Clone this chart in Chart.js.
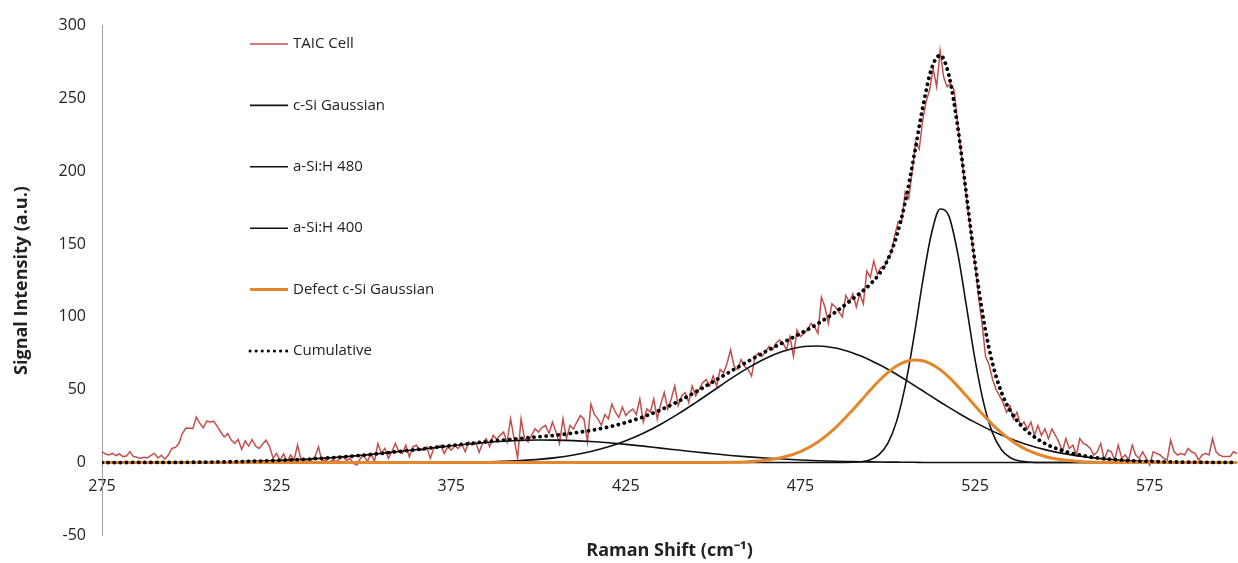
<!doctype html>
<html lang="en">
<head>
<meta charset="utf-8">
<title>Raman spectrum fit - TAIC cell</title>
<script src="https://cdn.jsdelivr.net/npm/chart.js@4.4.0/dist/chart.umd.min.js"></script>
<style>
  html, body { margin: 0; padding: 0; background: #fff; }
</style>
</head>
<body>
<canvas id="ramanChart" width="1238" height="563"></canvas>
<script>
// measured spectrum, one reading per cm-1 starting at 275
var shiftStart = 275
var taicCell = [
  7.5, 5.9, 5.2, 6.3, 4.7, 5.9, 4.1, 4.5, 7.5, 4.1,
  3.6, 2.9, 3.6, 3.1, 5.0, 6.3, 3.1, 5.0, 2.3, 5.2,
  9.7, 10.4, 13.1, 19.9, 23.5, 23.7, 23.3, 31.2, 27.1, 23.9,
  28.4, 27.8, 28.4, 24.8, 21.0, 17.6, 19.9, 15.4, 13.1, 15.8,
  9.0, 14.9, 11.3, 15.8, 11.3, 9.7, 12.7, 15.4, 10.8, 2.9,
  6.3, 1.4, 5.9, 0.7, 5.2, 1.8, 12.0, 1.8, 2.7, 0.0,
  1.8, 4.1, 10.8, 0.7, 1.8, 0.0, 1.8, 0.7, 2.3, 4.1,
  1.4, 2.9, -0.5, -1.6, 2.9, 4.7, 0.7, 6.3, 0.7, 13.1,
  6.3, 9.7, 2.9, 7.4, 13.1, 7.4, 6.3, 11.9, 4.0, 10.8,
  11.9, 8.5, 8.5, 10.8, 2.9, 9.7, 10.8, 11.9, 6.3, 10.8,
  8.5, 11.5, 9.7, 13.0, 7.4, 14.2, 11.9, 14.0, 7.0, 13.5,
  16.4, 11.0, 18.7, 16.0, 18.7, 20.9, 14.0, 30.0, 16.4, 2.9,
  30.0, 16.4, 14.2, 18.7, 23.2, 20.9, 24.0, 25.5, 20.0, 27.8,
  21.0, 13.1, 30.0, 16.5, 25.5, 23.0, 28.0, 32.3, 30.0, 14.3,
  40.2, 33.0, 30.0, 25.5, 33.0, 30.0, 40.2, 34.6, 31.0, 38.0,
  32.3, 35.0, 36.8, 33.0, 43.6, 27.8, 36.8, 34.6, 43.6, 30.0,
  40.0, 48.1, 36.8, 43.6, 52.6, 39.1, 45.8, 48.1, 41.3, 52.6,
  45.8, 50.4, 54.9, 57.1, 52.6, 59.4, 52.6, 63.9, 61.6, 68.4,
  77.4, 66.1, 63.9, 70.7, 66.1, 63.9, 59.4, 72.9, 75.2, 72.9,
  76.3, 79.7, 77.4, 81.9, 84.2, 81.9, 77.4, 86.5, 72.9, 91.0,
  86.5, 88.7, 91.0, 95.5, 93.2, 88.7, 113.6, 106.8, 95.5, 109.0,
  106.8, 103.4, 100.0, 114.7, 110.2, 115.8, 106.8, 115.8, 109.0, 131.6,
  127.1, 138.4, 129.4, 133.9, 133.8, 140.0, 144.0, 156.0, 165.4, 166.0,
  185.8, 181.2, 200.0, 220.0, 215.1, 235.0, 248.0, 256.0, 270.4, 258.0,
  282.8, 264.7, 258.0, 260.2, 255.7, 233.0, 212.8, 192.5, 172.2, 154.0,
  136.0, 113.5, 95.5, 73.0, 67.3, 57.1, 50.3, 45.8, 41.3, 34.5,
  39.0, 30.0, 34.5, 25.5, 27.8, 23.2, 27.8, 18.7, 25.5, 18.7,
  23.2, 16.4, 23.2, 18.7, 14.2, 7.4, 16.5, 9.7, 12.0, 5.2,
  16.5, 13.1, 12.0, 9.7, 5.2, 7.4, 13.1, 1.8, 8.6, 7.4,
  1.8, 12.0, 2.9, 5.2, 1.8, 12.0, 5.2, 2.9, 7.4, 2.9,
  -1.6, 7.4, 6.3, 5.2, 2.9, 1.8, 15.3, 7.4, 5.2, 6.3,
  5.2, 9.7, 7.4, 6.3, 1.8, 5.2, 6.3, 5.2, 16.5, 7.4,
  5.2, 4.1, 4.1, 4.1, 7.4, 6.3
]
var ramanShift = taicCell.map(function (v, i) { return shiftStart + i })

// fitted components, read at these shifts
var fitShift = [
  275, 280, 285, 290, 295, 300, 305, 310, 315, 320,
  325, 330, 335, 340, 345, 350, 355, 360, 365, 370,
  375, 380, 385, 390, 395, 400, 405, 410, 415, 420,
  425, 430, 435, 440, 445, 450, 455, 460, 465, 470,
  475, 480, 485, 490, 492.5, 495, 497.5, 500, 502.5, 505,
  507.5, 510, 512.5, 515, 517.5, 520, 522.5, 525, 527.5, 530,
  532.5, 535, 537.5, 540, 545, 550, 555, 560, 565, 570,
  575, 580, 585, 590, 595, 600
]
var cSiGauss = [
  0, 0, 0, 0, 0, 0, 0, 0, 0, 0,
  0, 0, 0, 0, 0, 0, 0, 0, 0, 0,
  0, 0, 0, 0, 0, 0, 0, 0, 0, 0,
  0, 0, 0, 0, 0, 0, 0, 0, 0, 0,
  0, 0, 0, 0.2, 0.6, 1.9, 5.4, 13.1, 28.1, 52.6,
  86.4, 124.4, 157.1, 174.1, 169.2, 144.1, 107.7, 70.5, 40.5, 20.4,
  9.0, 3.5, 1.2, 0.4, 0, 0, 0, 0, 0, 0,
  0, 0, 0, 0, 0, 0
]
var aSiH480 = [
  0, 0, 0, 0, 0, 0, 0, 0, 0, 0,
  0, 0, 0, 0, 0, 0, 0, 0, 0.05, 0.1,
  0.2, 0.3, 0.5, 0.8, 1.4, 2.2, 3.4, 5.2, 7.6, 10.8,
  15.0, 20.1, 26.3, 33.4, 41.2, 49.3, 57.5, 65.0, 71.5, 76.4,
  79.3, 80.0, 78.6, 75.3, 73.0, 70.3, 67.3, 64.1, 60.6, 56.9,
  53.1, 49.3, 45.4, 41.6, 37.9, 34.3, 30.8, 27.6, 24.5, 21.6,
  18.9, 16.5, 14.3, 12.3, 8.9, 6.3, 4.4, 2.9, 1.9, 1.2,
  0.8, 0.5, 0.3, 0.2, 0.1, 0.1
]
var aSiH400 = [
  0.0, 0.0, 0.1, 0.1, 0.1, 0.2, 0.3, 0.5, 0.7, 1.0,
  1.4, 1.9, 2.5, 3.2, 4.1, 5.1, 6.3, 7.6, 8.9, 10.2,
  11.5, 12.7, 13.8, 14.6, 15.2, 15.5, 15.4, 15.1, 14.5, 13.6,
  12.5, 11.3, 9.9, 8.6, 7.3, 6.1, 4.9, 3.9, 3.1, 2.4,
  1.8, 1.3, 0.9, 0.7, 0.6, 0.5, 0.4, 0.3, 0.3, 0.2,
  0.2, 0.1, 0.1, 0.1, 0.1, 0.1, 0, 0, 0, 0,
  0, 0, 0, 0, 0, 0, 0, 0, 0, 0,
  0, 0, 0, 0, 0, 0
]
var defectCSi = [
  0, 0, 0, 0, 0, 0, 0, 0, 0, 0,
  0, 0, 0, 0, 0, 0, 0, 0, 0, 0,
  0, 0, 0, 0, 0, 0, 0, 0, 0, 0,
  0, 0, 0, 0, 0, 0.1, 0.2, 0.6, 1.6, 3.6,
  7.5, 14.1, 23.8, 36.2, 43.0, 49.8, 56.2, 61.8, 66.3, 69.2,
  70.5, 69.9, 67.6, 63.8, 58.6, 52.5, 45.8, 38.9, 32.3, 26.1,
  20.6, 15.8, 11.8, 8.6, 4.2, 1.9, 0.8, 0.3, 0.1, 0,
  0, 0, 0, 0, 0, 0
]
var cumulative = [
  0.0, 0.0, 0.1, 0.1, 0.1, 0.2, 0.3, 0.5, 0.7, 1.0,
  1.4, 1.9, 2.5, 3.2, 4.1, 5.1, 6.3, 7.6, 8.9, 10.3,
  11.7, 13.0, 14.3, 15.4, 16.6, 17.7, 18.8, 20.3, 22.1, 24.4,
  27.5, 31.4, 36.2, 42.0, 48.5, 55.5, 62.6, 69.5, 76.2, 82.4,
  88.6, 95.4, 103.3, 112.4, 117.2, 122.5, 129.3, 139.3, 155.3, 178.9,
  210.2, 243.7, 270.2, 279.6, 265.8, 231.0, 184.3, 137.0, 97.3, 68.1,
  48.5, 35.8, 27.3, 21.3, 13.1, 8.2, 5.2, 3.2, 2.0, 1.2,
  0.8, 0.5, 0.3, 0.2, 0.1, 0.1
]

var xTicks = [275, 325, 375, 425, 475, 525, 575]
var yTicks = [-50, 0, 50, 100, 150, 200, 250, 300]

function points(xs, ys) {
  return xs.map(function (x, i) { return { x: x, y: ys[i] } })
}

var font = 'Open Sans'
var textColor = '#222'
var axisColor = '#a3a3a3'

// legend sits inside the plot, one entry every ~61px
var insideLegend = {
  id: 'insideLegend',
  afterDraw: function (chart) {
    var ctx = chart.ctx
    ctx.save()
    chart.data.datasets.forEach(function (ds, i) {
      var y = 44 + i * 61.4
      ctx.beginPath()
      ctx.strokeStyle = ds.borderColor
      ctx.lineWidth = Math.min(ds.borderWidth, 3)
      ctx.lineCap = ds.borderCapStyle || 'butt'
      ctx.setLineDash(ds.borderDash || [])
      ctx.moveTo(250, y)
      ctx.lineTo(288, y)
      ctx.stroke()
      ctx.setLineDash([])
      ctx.fillStyle = textColor
      ctx.font = '15px "' + font + '"'
      ctx.textBaseline = 'middle'
      ctx.textAlign = 'left'
      ctx.fillText(ds.label, 293, y)
    })
    ctx.restore()
  }
}

var ctx = document.getElementById('ramanChart').getContext('2d')
var chart = new Chart(ctx, {
  type: 'line',
  data: {
    datasets: [{
      label: 'TAIC Cell',
      data: points(ramanShift, taicCell),
      borderColor: '#C0504D',
      borderWidth: 1.5,
      tension: 0,
      order: 5
    }, {
      label: 'c-Si Gaussian',
      data: points(fitShift, cSiGauss),
      borderColor: '#111',
      borderWidth: 1.6,
      cubicInterpolationMode: 'monotone',
      order: 2
    }, {
      label: 'a-Si:H 480',
      data: points(fitShift, aSiH480),
      borderColor: '#111',
      borderWidth: 1.6,
      cubicInterpolationMode: 'monotone',
      order: 3
    }, {
      label: 'a-Si:H 400',
      data: points(fitShift, aSiH400),
      borderColor: '#111',
      borderWidth: 1.6,
      cubicInterpolationMode: 'monotone',
      order: 4
    }, {
      label: 'Defect c-Si Gaussian',
      data: points(fitShift, defectCSi),
      borderColor: '#E3872D',
      borderWidth: 3,
      cubicInterpolationMode: 'monotone',
      order: 1
    }, {
      label: 'Cumulative',
      data: points(fitShift, cumulative),
      borderColor: '#000',
      borderWidth: 3.8,
      borderDash: [0.1, 6],
      borderCapStyle: 'round',
      cubicInterpolationMode: 'monotone',
      order: 0
    }]
  },
  options: {
    responsive: false,
    animation: false,
    elements: { point: { radius: 0 }, line: { fill: false } },
    layout: { padding: { left: 7, right: 1, top: 18, bottom: 0 } },
    scales: {
      x: {
        type: 'linear',
        min: 275,
        max: 600,
        position: { y: 0 },
        afterBuildTicks: function (axis) {
          axis.ticks = xTicks.map(function (v) { return { value: v } })
        },
        ticks: { padding: 14, color: textColor, maxRotation: 0, autoSkip: false, font: { family: font, size: 16 } },
        grid: { display: false, drawTicks: false },
        border: { display: true, color: axisColor, width: 1 }
      },
      y: {
        min: -50,
        max: 300,
        afterBuildTicks: function (axis) {
          axis.ticks = yTicks.map(function (v) { return { value: v } })
        },
        afterFit: function (scale) { scale.width = 95 },
        ticks: { padding: 16, color: textColor, font: { family: font, size: 16 } },
        grid: { display: false, drawTicks: false },
        border: { display: true, color: axisColor, width: 1 },
        title: {
          display: true,
          text: 'Signal Intensity (a.u.)',
          color: textColor,
          font: { family: font, size: 18, weight: 'bold' },
          padding: { top: 4, bottom: 0 }
        }
      }
    },
    plugins: {
      legend: { display: false },
      tooltip: { enabled: false },
      title: {
        display: true,
        position: 'bottom',
        fullSize: false,
        text: 'Raman Shift (cm\u207B\u00B9)',
        color: textColor,
        font: { family: font, size: 18, weight: 'bold' },
        padding: { top: 5, bottom: 1 }
      }
    }
  },
  plugins: [insideLegend]
})
</script>
</body>
</html>
